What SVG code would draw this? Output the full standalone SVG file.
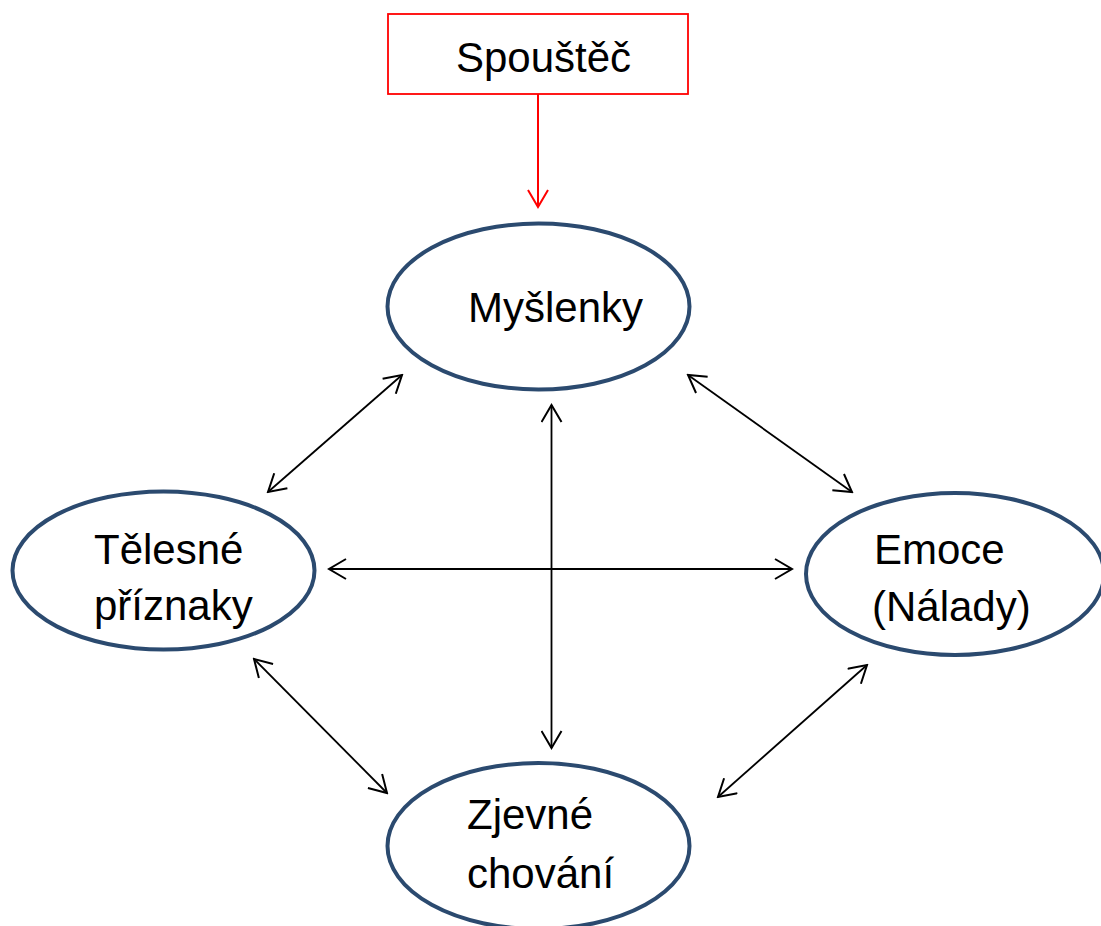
<svg xmlns="http://www.w3.org/2000/svg" width="1101" height="926" viewBox="0 0 1101 926">
<style>
.node{fill:#fff;stroke:#2B4A6F;stroke-width:4}
.lbl{font-family:"Liberation Sans",Arial,sans-serif;font-size:42px;fill:#000}
.con{stroke:#000;stroke-width:1.8;fill:none;marker-start:url(#ah);marker-end:url(#ah)}
</style>
<defs>
<marker id="ah" viewBox="0 0 20 22" refX="18" refY="11" markerWidth="20" markerHeight="22" markerUnits="userSpaceOnUse" orient="auto-start-reverse">
<path d="M1,1 L18,11 L1,21" fill="none" stroke="#000" stroke-width="2"/>
</marker>
<marker id="ahr" viewBox="0 0 20 22" refX="18" refY="11" markerWidth="20" markerHeight="22" markerUnits="userSpaceOnUse" orient="auto">
<path d="M1,1 L18,11 L1,21" fill="none" stroke="#FF0000" stroke-width="2"/>
</marker>
</defs>
<rect width="1101" height="926" fill="#fff"/>
<g id="connectors">
<line x1="538" y1="94" x2="538" y2="207" stroke="#FF0000" stroke-width="2" marker-end="url(#ahr)"/>
<line class="con" x1="268" y1="492" x2="402" y2="375"/>
<line class="con" x1="688" y1="375" x2="852" y2="492"/>
<line class="con" x1="551.5" y1="405" x2="551.5" y2="748"/>
<line class="con" x1="329" y1="569" x2="792" y2="569"/>
<line class="con" x1="254" y1="659" x2="387" y2="793"/>
<line class="con" x1="867" y1="665" x2="718" y2="797"/>
</g>
<g id="spoustec">
<rect x="388" y="14" width="300" height="80" fill="#fff" stroke="#FF0000" stroke-width="1.8"/>
<text class="lbl" x="456" y="72">Spouštěč</text>
</g>
<g id="myslenky">
<ellipse class="node" cx="538.5" cy="306.5" rx="151" ry="83"/>
<text class="lbl" x="468" y="322">Myšlenky</text>
</g>
<g id="telesne">
<ellipse class="node" cx="163.5" cy="570.5" rx="151" ry="79"/>
<text class="lbl" x="94" y="564">Tělesné</text>
<text class="lbl" x="94" y="620">příznaky</text>
</g>
<g id="emoce">
<ellipse class="node" cx="955" cy="574" rx="149" ry="81"/>
<text class="lbl" x="874" y="564">Emoce</text>
<text class="lbl" x="872" y="621">(Nálady)</text>
</g>
<g id="zjevne">
<ellipse class="node" cx="538.5" cy="846" rx="151" ry="83"/>
<text class="lbl" x="467" y="829">Zjevné</text>
<text class="lbl" x="467" y="888">chování</text>
</g>
</svg>
